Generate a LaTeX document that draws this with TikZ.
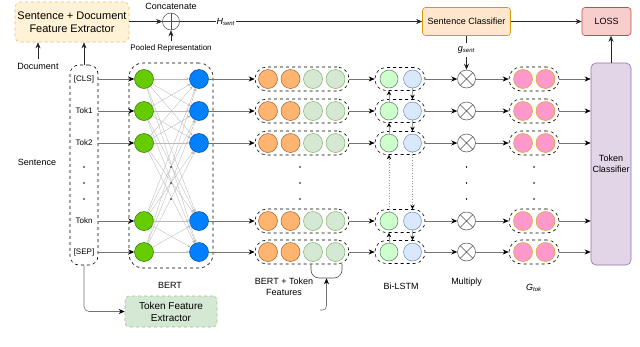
\documentclass[tikz,border=0pt]{standalone}
\usepackage{fontspec}
\setmainfont{Liberation Sans}
\usepackage{xcolor}
\usepackage{tikz}
\usetikzlibrary{arrows.meta,positioning}

\definecolor{sdfefill}{HTML}{FFF2D6}
\definecolor{sdfeline}{HTML}{E8BE6E}
\definecolor{scfill}{HTML}{FFE6CC}
\definecolor{scline}{HTML}{D79B00}
\definecolor{lossfill}{HTML}{F8CECC}
\definecolor{lossline}{HTML}{B85450}
\definecolor{tcfill}{HTML}{E1D5E7}
\definecolor{tcline}{HTML}{9673A6}
\definecolor{tfefill}{HTML}{D5E8D4}
\definecolor{tfeline}{HTML}{9CC08C}
\definecolor{bertgreen}{HTML}{66CC00}
\definecolor{bgline}{HTML}{2D7600}
\definecolor{bertblue}{HTML}{007FFF}
\definecolor{bbline}{HTML}{00509F}
\definecolor{orfill}{HTML}{FFB570}
\definecolor{orline}{HTML}{A0622D}
\definecolor{emgfill}{HTML}{D5E8D4}
\definecolor{emgline}{HTML}{82B366}
\definecolor{lgfill}{HTML}{CCFFCC}
\definecolor{lgline}{HTML}{5E7F5E}
\definecolor{lbfill}{HTML}{DAE8FC}
\definecolor{lbline}{HTML}{6C8EBF}
\definecolor{pkfill}{HTML}{FF99CC}
\definecolor{pkline}{HTML}{E0A020}

\begin{document}
\begin{tikzpicture}[x=1pt, y=-1pt,
  font=\fontsize{9}{11}\selectfont,
  link/.style={-{Stealth[length=6pt, width=5pt]}, draw=black!85, line width=0.6pt},
  flow/.style={-{Stealth[length=6pt, width=5pt, color=black]}, draw=black!55, line width=0.6pt},
  updown/.style={-{Stealth[length=4.5pt, width=4.5pt, color=black]}, draw=black!40, line width=0.6pt},
  mesh/.style={-{Stealth[length=3pt, width=2.5pt]}, draw=black!28, line width=0.35pt},
  pill/.style={draw, dashed, line width=0.6pt, inner sep=0pt},
  unit/.style={circle, draw, line width=0.5pt, inner sep=0pt, minimum size=19pt},
  block/.style={rectangle, draw, rounded corners=3pt, line width=0.6pt, align=center, inner sep=0pt},
  op/.style={circle, draw=black!70, line width=0.5pt, inner sep=0pt, minimum size=18pt},
  small/.style={font=\fontsize{8}{9}\selectfont}
]
  \useasboundingbox (0,0) rectangle (640,346);

  % Sentence level
  \node[block, dashed, draw=sdfeline, fill=sdfefill, rounded corners=5pt,
    minimum width=114pt, minimum height=40pt, font=\fontsize{11}{13}\selectfont]
    (sdfe) at (72,22) {Sentence + Document\\Feature Extractor};
  \node (doc) at (38,66) {Document};
  \node[op, minimum size=17pt] (cat) at (171,21.5) {};
  \draw[line width=0.5pt, black!70] (cat.north) -- (cat.south) (cat.west) -- (cat.east);
  \node (cattxt) at (171,6) {Concatenate};
  \node[small] (pool) at (171,48) {Pooled Representation};
  \node[block, draw=scline, fill=scfill, minimum width=88pt, minimum height=28pt]
    (sc) at (466.5,21.5) {Sentence Classifier};
  \node[block, draw=lossline, fill=lossfill, minimum width=49pt, minimum height=28pt]
    (loss) at (606.5,21.5) {LOSS};
  \node[block, draw=tcline, fill=tcfill, rounded corners=5pt,
    minimum width=40pt, minimum height=202pt] (tcls) at (611,164) {Token\\Classifier};
  \node (gs) at (466.5,50) {\textit{g}\textsubscript{\textit{sent}}};

  % Token level
  \node[pill, rounded corners=9pt, minimum width=28pt, minimum height=200pt] (inbox) at (84,165) {};
  \node[pill, rounded corners=14pt, minimum width=84pt, minimum height=205pt] (bert) at (171,165.5) {};
  \node (sentl) at (37,162) {Sentence};

  \foreach \i/\y/\t in {1/79/{[CLS]}, 2/111/Tok1, 3/143/Tok2, 4/221/Tokn, 5/252/{[SEP]}} {
    \node[small] (tok\i) at (84,\y) {\t};
    \node[unit, draw=bgline, fill=bertgreen] (gin\i) at (144,\y) {};
    \node[unit, draw=bbline, fill=bertblue] (bout\i) at (199,\y) {};
    \node[pill, rounded corners=12pt, minimum width=94pt, minimum height=24pt] (emb\i) at (302,\y) {};
    \node[unit, draw=orline, fill=orfill] (ea\i) at (268,\y) {};
    \node[unit, draw=orline, fill=orfill] (eb\i) at (290.5,\y) {};
    \node[unit, draw=emgline, fill=emgfill] (ec\i) at (313,\y) {};
    \node[unit, draw=emgline, fill=emgfill] (ed\i) at (335.5,\y) {};
    \node[pill, rounded corners=11pt, minimum width=50pt, minimum height=23pt] (lstm\i) at (400,\y) {};
    \node[unit, minimum size=18pt, draw=lgline, fill=lgfill] (lg\i) at (389,\y) {};
    \node[unit, minimum size=18pt, draw=lbline, fill=lbfill] (lb\i) at (412.5,\y) {};
    \node[op] (mul\i) at (466.5,\y) {};
    \draw[line width=0.5pt, black!70] (mul\i.north west) -- (mul\i.south east)
      (mul\i.north east) -- (mul\i.south west);
    \node[pill, rounded corners=12pt, minimum width=50pt, minimum height=24pt] (gtok\i) at (534,\y) {};
    \node[unit, draw=pkline, fill=pkfill] (pa\i) at (523,\y) {};
    \node[unit, draw=pkline, fill=pkfill] (pb\i) at (545.5,\y) {};

    \draw[flow] (tok\i -| inbox.east) -- (gin\i);
    \draw[flow] (bout\i) -- (emb\i);
    \draw[flow] (emb\i) -- (lstm\i);
    \draw[flow] (lstm\i) -- (mul\i);
    \draw[flow] (mul\i) -- (gtok\i);
    \draw[flow] (gtok\i) -- (tcls.west |- gtok\i);
  }

  % BERT layer
  \foreach \i in {1,...,5}
    \foreach \j in {1,...,5}
      \draw[mesh] (gin\i) -- (bout\j);

  % Bi-LSTM directions
  \foreach \i/\j in {1/2, 2/3, 4/5} {
    \draw[updown] (lg\j) -- (lg\j |- lstm\i.south);
    \draw[updown] (lb\i) -- (lb\i |- lstm\j.north);
  }
  \draw[updown, dotted] (lg4) -- (lg4 |- lstm3.south);
  \draw[updown, dotted] (lb3) -- (lb3 |- lstm4.north);

  \foreach \x in {84,171,300,466.5,534}
    \foreach \y in {167,183,199}
      \fill (\x,\y) circle (0.8pt);

  % Labels
  \node (bertl) at (170,285) {BERT};
  \node[align=center] (embl) at (284,287) {BERT + Token\\Features};
  \node (lstml) at (401,286) {Bi-LSTM};
  \node (mull) at (466.5,282) {Multiply};
  \node (gtokl) at (534,288) {\textit{G}\textsubscript{\textit{tok}}};

  % Token features
  \node[block, dashed, draw=tfeline, fill=tfefill, rounded corners=4pt,
    minimum width=92pt, minimum height=31pt, font=\fontsize{10}{12}\selectfont]
    (tfe) at (171,311.5) {Token Feature\\Extractor};
  \draw[flow, rounded corners=5pt] (inbox) |- (tfe);
  \draw[black!70, line width=0.6pt, rounded corners=8pt] (311,264) -- (311,278) -- (342,278) -- (342,264);
  \coordinate (ftin) at (320,310);
  \coordinate (ubot) at (326.5,278.3);
  \draw[flow, rounded corners=4pt] (ftin) -| (ubot);

  % Connectors on top
  \draw[link] (doc) -- (doc |- sdfe.south);
  \draw[link] (inbox) -- (inbox |- sdfe.south);
  \draw[link] (sdfe.east |- cat) -- (cat);
  \draw[link] (pool) -- (cat);
  \draw[link] (cat) -- node[pos=0.19, fill=white, inner sep=1pt]
    {\textit{H}\textsubscript{\textit{sent}}} (cat -| sc.west);
  \draw[link] (sc) -- (loss);
  \draw[link] (tcls.north) -- (tcls.north |- loss.south);
  \draw[black!85, line width=0.6pt] (sc) -- (gs);
  \draw[link] (gs) -- (mul1);
\end{tikzpicture}
\end{document}
